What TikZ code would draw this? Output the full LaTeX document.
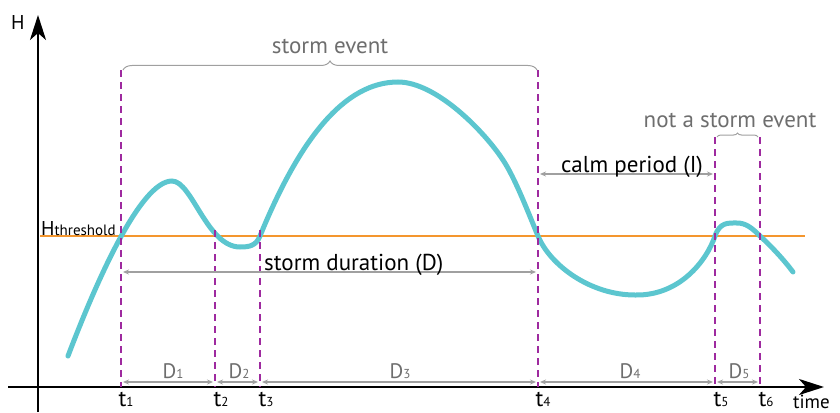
\documentclass[tikz,border=0pt]{standalone}
\usepackage{fontspec}
\setmainfont{PT Sans}
\usetikzlibrary{arrows.meta,decorations.pathreplacing}
\definecolor{teal1}{HTML}{5CC6CF}
\definecolor{orng}{HTML}{F4962E}
\definecolor{purp}{HTML}{9E2A9F}
\definecolor{gline}{HTML}{A0A0A0}
\definecolor{gtext}{HTML}{6E6E6E}
\newcommand{\sbs}[1]{{\fontsize{13}{13}\selectfont #1}}
\newcommand{\sbt}[1]{{\fontsize{15}{15}\selectfont #1}}
\begin{document}
\begin{tikzpicture}[x=1pt,y=-1pt,
  axis/.style={line width=2.6pt,-{Stealth[length=25pt,width=16pt,inset=7pt]}},
  vdash/.style={purp,line width=2.4pt,dash pattern=on 7pt off 5pt},
  garrow/.style={gline,line width=1.2pt,{Stealth[length=6pt,width=5pt]}-{Stealth[length=6pt,width=5pt]}},
  glabel/.style={text=gtext,font=\fontsize{23}{23}\selectfont,inner sep=0pt},
  dlabel/.style={text=gtext,font=\fontsize{21}{21}\selectfont,inner sep=0pt,anchor=base},
  blabel/.style={text=black,font=\fontsize{23}{23}\selectfont,inner sep=0pt},
  tlabel/.style={text=black,font=\fontsize{23}{23}\selectfont,inner sep=0pt,anchor=base},
  gbrace/.style={gline,line width=1pt,decorate,decoration={brace,amplitude=9pt}}]
\useasboundingbox (0,0) rectangle (840,412);
% axes
\coordinate (ox) at (8,387);
\coordinate (xe) at (824,387);
\coordinate (oy) at (38,412);
\coordinate (ye) at (38,15);
\draw[axis] (ox) -- (xe);
\draw[axis] (oy) -- (ye);
\node[tlabel,anchor=base west,font=\fontsize{20}{20}\selectfont] (H) at (11,30) {H};
\node[tlabel,anchor=base west,font=\fontsize{19}{19}\selectfont] (time) at (793,408) {time};
% threshold
\coordinate (th0) at (40,236);
\coordinate (th1) at (805,236);
\draw[orng,line width=2pt] (th0) -- (th1);
\node[tlabel,anchor=base west,font=\fontsize{20}{20}\selectfont] (Hth) at (41,235) {H\sbt{threshold}};
% dashed verticals
\foreach \n/\x/\y in {1/121/70,2/215/230,3/260/230,4/538/70,5/715/137,6/760/137}{
  \coordinate (t\n top) at (\x,\y);
  \coordinate (t\n bot) at (\x,387);
}
% curve
\coordinate (c0) at (68,356);
\coordinate (p1) at (172,181);
\coordinate (m1) at (240,247);
\coordinate (x3) at (260,236);
\coordinate (p2) at (398,82);
\coordinate (r1) at (503,160);
\coordinate (x4) at (538,236);
\coordinate (m2) at (635,295);
\coordinate (x5) at (715,236);
\coordinate (p3) at (737,223);
\coordinate (x6) at (760,236);
\coordinate (c1) at (793,272);
\draw[teal1,line width=5pt,line cap=round]
  (c0) .. controls (95,285) and (140,181) .. (p1)
       .. controls (192,181) and (207,247) .. (m1)
       .. controls (249,247) and (256,246) .. (x3)
       .. controls (300,138) and (345,82) .. (p2)
       .. controls (436,82) and (484,131) .. (r1)
       .. controls (515,178) and (528,212) .. (x4)
       .. controls (550,265) and (590,295) .. (m2)
       .. controls (680,296) and (707,260) .. (x5)
       .. controls (720,222) and (728,223) .. (p3)
       .. controls (746,223) and (752,228) .. (x6)
       .. controls (772,247) and (784,260) .. (c1);
\foreach \n in {1,...,6}{\draw[vdash] (t\n top) -- (t\n bot);}
% t labels
\node[tlabel] (l1) at (126,406) {t\sbs{1}};
\node[tlabel] (l2) at (221,406) {t\sbs{2}};
\node[tlabel] (l3) at (266,406) {t\sbs{3}};
\node[tlabel] (l4) at (543,406) {t\sbs{4}};
\node[tlabel] (l5) at (721,406) {t\sbs{5}};
\node[tlabel] (l6) at (766,406) {t\sbs{6}};
% D arrows
\coordinate (a1) at (123,382); \coordinate (b1) at (213,382);
\coordinate (a2) at (217,382); \coordinate (b2) at (258,382);
\coordinate (a3) at (262,382); \coordinate (b3) at (536,382);
\coordinate (a4) at (540,382); \coordinate (b4) at (713,382);
\coordinate (a5) at (717,382); \coordinate (b5) at (758,382);
\foreach \n in {1,...,5}{\draw[garrow] (a\n) -- (b\n);}
\node[dlabel] (D1) at (173,378) {D\sbs{1}};
\node[dlabel] (D2) at (239,378) {D\sbs{2}};
\node[dlabel] (D3) at (400,378) {D\sbs{3}};
\node[dlabel] (D4) at (630,378) {D\sbs{4}};
\node[dlabel] (D5) at (739,378) {D\sbs{5}};
% storm duration
\coordinate (sd0) at (123,272);
\coordinate (sd1) at (536,272);
\draw[garrow] (sd0) -- (sd1);
\node[blabel,anchor=base west] (sdl) at (264,270) {storm duration (D)};
% calm period
\coordinate (cp0) at (540,174);
\coordinate (cp1) at (713,174);
\draw[garrow] (cp0) -- (cp1);
\node[blabel,anchor=base] (cpl) at (632,172) {calm period (I)};
% braces
\coordinate (br0) at (123,70);
\coordinate (br1) at (537,70);
\draw[gbrace] (br0) -- (br1);
\node[glabel,anchor=base] (se) at (330,53) {storm event};
\coordinate (nb0) at (717,137);
\coordinate (nb1) at (758,137);
\draw[gbrace,decoration={brace,amplitude=4pt}] (nb0) -- (nb1);
\node[glabel,anchor=base] (nse) at (730,127) {not a storm event};
\end{tikzpicture}
\end{document}
